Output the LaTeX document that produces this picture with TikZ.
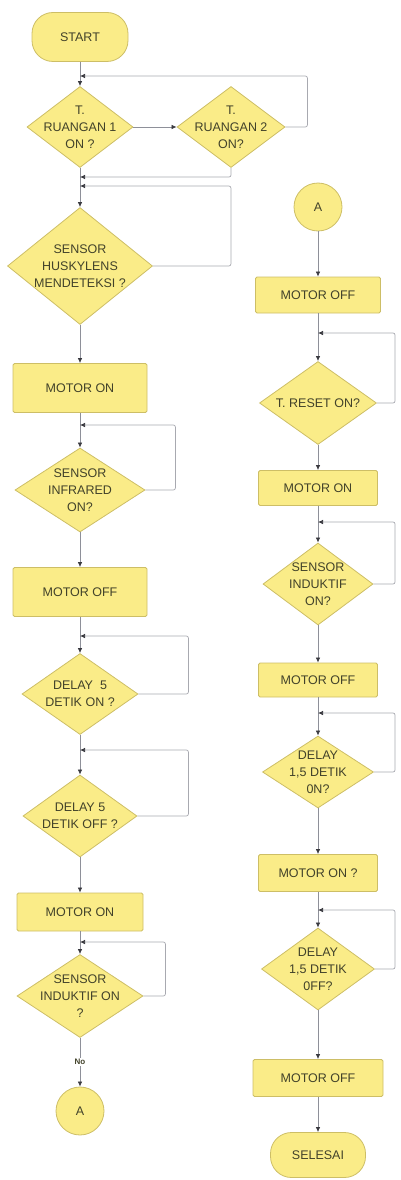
\documentclass[tikz,border=0pt]{standalone}
\usepackage{fontspec}
\setmainfont{Liberation Sans}
\usetikzlibrary{shapes.geometric,arrows.meta,calc}

\definecolor{boxFill}{HTML}{FAEC88}
\definecolor{boxLine}{HTML}{CDBE66}
\definecolor{flowLine}{HTML}{8E9099}
\definecolor{loopLine}{HTML}{A8A9B0}
\definecolor{tipColor}{HTML}{3A3A40}
\definecolor{textColor}{HTML}{42422A}

\newcommand{\chartFont}{\fontsize{12.5}{17}\selectfont}

\begin{document}
\begin{tikzpicture}[x=1pt,y=1pt]
    \tikzstyle{terminal} = [
      rectangle,
      rounded corners=21pt,
      draw=boxLine,
      fill=boxFill,
      line width=0.8pt,
      text=textColor,
      font=\chartFont,
    ]
    \tikzstyle{process} = [
      rectangle,
      rounded corners=1.5pt,
      draw=boxLine,
      fill=boxFill,
      line width=0.8pt,
      text=textColor,
      font=\chartFont,
    ]
    \tikzstyle{decision} = [
      diamond,
      draw=boxLine,
      fill=boxFill,
      line width=0.8pt,
      inner sep=0pt,
    ]
    \tikzstyle{decisionText} = [
      align=center,
      inner sep=0pt,
      text=textColor,
      font=\chartFont,
    ]
    \tikzstyle{connector} = [
      circle,
      draw=boxLine,
      fill=boxFill,
      line width=0.8pt,
      minimum size=48pt,
      text=textColor,
      font=\chartFont,
    ]
    \tikzstyle{flow} = [
      line width=0.7pt,
      draw=flowLine,
      -{Latex[length=5pt,width=4.5pt,color=tipColor]},
    ]
    \tikzstyle{loopback} = [
      flow,
      draw=loopLine,
      rounded corners=2pt,
    ]

    \useasboundingbox (0,0) rectangle (401,-1180);

    \coordinate (leftAnchor)  at (80,0);
    \coordinate (rightAnchor) at (318,0);
    \coordinate (rightEdge)   at (395,0);

    % left column
    {
      \node[terminal, minimum width=96pt, minimum height=49pt] (start) at ([yshift=-37pt] leftAnchor) {START};
      \node[decision, minimum width=106pt, minimum height=81pt, label={[decisionText]center:T.\\RUANGAN 1\\ON ?}] (ruangI) at ([yshift=-127pt] leftAnchor) {};
      \node[decision, minimum width=108pt, minimum height=81pt, label={[decisionText]center:T.\\RUANGAN 2\\ON?}] (ruangII) at ([xshift=151pt, yshift=-127pt] leftAnchor) {};
      \node[decision, minimum width=145pt, minimum height=117pt, label={[decisionText]center:SENSOR\\HUSKYLENS\\MENDETEKSI ?}] (husky) at ([yshift=-266pt] leftAnchor) {};
      \node[process, minimum width=134pt, minimum height=49pt] (motorOnI) at ([yshift=-388pt] leftAnchor) {MOTOR ON};
      \node[decision, minimum width=130pt, minimum height=84pt, label={[decisionText]center:SENSOR\\INFRARED\\ON?}] (infrared) at ([yshift=-490pt] leftAnchor) {};
      \node[process, minimum width=134pt, minimum height=49pt] (motorOffI) at ([yshift=-592pt] leftAnchor) {MOTOR OFF};
      \node[decision, minimum width=116pt, minimum height=81pt, label={[decisionText]center:DELAY\ \ 5\\DETIK ON ?}] (delayOn) at ([yshift=-694pt] leftAnchor) {};
      \node[decision, minimum width=114pt, minimum height=82pt, label={[decisionText]center:DELAY 5\\DETIK OFF ?}] (delayOff) at ([yshift=-816pt] leftAnchor) {};
      \node[process, minimum width=126pt, minimum height=38pt] (motorOnII) at ([yshift=-912pt] leftAnchor) {MOTOR ON};
      \node[decision, minimum width=126pt, minimum height=83pt, label={[decisionText]center:SENSOR\\INDUKTIF ON\\?}] (induktifI) at ([yshift=-996pt] leftAnchor) {};
      \node[connector] (pageOut) at ([yshift=-1111pt] leftAnchor) {A};
    }

    % right column
    {
      \node[connector] (pageIn) at ([yshift=-207pt] rightAnchor) {A};
      \node[process, minimum width=125pt, minimum height=36pt] (motorOffII) at ([yshift=-295pt] rightAnchor) {MOTOR OFF};
      \node[decision, minimum width=117pt, minimum height=83pt, label={[decisionText]center:T. RESET ON?}] (reset) at ([yshift=-403pt] rightAnchor) {};
      \node[process, minimum width=119pt, minimum height=35pt] (motorOnIII) at ([yshift=-488pt] rightAnchor) {MOTOR ON};
      \node[decision, minimum width=110pt, minimum height=82pt, label={[decisionText]center:SENSOR\\INDUKTIF\\ON?}] (induktifII) at ([yshift=-584pt] rightAnchor) {};
      \node[process, minimum width=119pt, minimum height=34pt] (motorOffIII) at ([yshift=-680pt] rightAnchor) {MOTOR OFF};
      \node[decision, minimum width=111pt, minimum height=72pt, label={[decisionText]center:{DELAY\\1,5 DETIK\\0N?}}] (shortOn) at ([yshift=-772pt] rightAnchor) {};
      \node[process, minimum width=119pt, minimum height=37pt] (motorOnIV) at ([yshift=-873pt] rightAnchor) {MOTOR ON ?};
      \node[decision, minimum width=113pt, minimum height=82pt, label={[decisionText]center:{DELAY\\1,5 DETIK\\0FF?}}] (shortOff) at ([yshift=-969pt] rightAnchor) {};
      \node[process, minimum width=130pt, minimum height=37pt] (motorOffIV) at ([yshift=-1078pt] rightAnchor) {MOTOR OFF};
      \node[terminal, minimum width=95pt, minimum height=45pt] (finish) at ([yshift=-1155pt] rightAnchor) {SELESAI};
    }

    % join points
    {
      \coordinate (ruangJoin)    at ([yshift=-76pt] leftAnchor);
      \coordinate (backJoin)     at ([yshift=-177pt] leftAnchor);
      \coordinate (huskyJoin)    at ([yshift=-186pt] leftAnchor);
      \coordinate (infraJoin)    at ([yshift=-425pt] leftAnchor);
      \coordinate (delayOnJoin)  at ([yshift=-636pt] leftAnchor);
      \coordinate (delayOffJoin) at ([yshift=-750pt] leftAnchor);
      \coordinate (induktifJoin) at ([yshift=-942pt] leftAnchor);
      \coordinate (resetJoin)    at ([yshift=-333pt] rightAnchor);
      \coordinate (induktifIIJoin) at ([yshift=-522pt] rightAnchor);
      \coordinate (shortOnJoin)  at ([yshift=-713pt] rightAnchor);
      \coordinate (shortOffJoin) at ([yshift=-910pt] rightAnchor);
    }

    % left flow
    {
      \draw[flow] (start) -- (ruangI);
      \draw[flow] (ruangI) -- (ruangII);
      \draw[flow] (ruangI) -- (husky);
      \draw[flow] (husky) -- (motorOnI);
      \draw[flow] (motorOnI) -- (infrared);
      \draw[flow] (infrared) -- (motorOffI);
      \draw[flow] (motorOffI) -- (delayOn);
      \draw[flow] (delayOn) -- (delayOff);
      \draw[flow] (delayOff) -- (motorOnII);
      \draw[flow] (motorOnII) -- (induktifI);
      \draw[flow] (induktifI) -- node[fill=white, inner sep=1pt, text=textColor, font=\bfseries\fontsize{8}{9}\selectfont] {No} (pageOut);
    }

    % left loops
    {
      \draw[loopback] (ruangII.east) -- ++(22,0) |- (ruangJoin);
      \draw[loopback] (ruangII.south) |- (backJoin);
      \draw[loopback] (husky.east) -- ++(78,0) |- (huskyJoin);
      \draw[loopback] (infrared.east) -- ++(30,0) |- (infraJoin);
      \draw[loopback] (delayOn.east) -- ++(50,0) |- (delayOnJoin);
      \draw[loopback] (delayOff.east) -- ++(51,0) |- (delayOffJoin);
      \draw[loopback] (induktifI.east) -- ++(22,0) |- (induktifJoin);
    }

    % right flow
    {
      \draw[flow] (pageIn) -- (motorOffII);
      \draw[flow] (motorOffII) -- (reset);
      \draw[flow] (reset) -- (motorOnIII);
      \draw[flow] (motorOnIII) -- (induktifII);
      \draw[flow] (induktifII) -- (motorOffIII);
      \draw[flow] (motorOffIII) -- (shortOn);
      \draw[flow] (shortOn) -- (motorOnIV);
      \draw[flow] (motorOnIV) -- (shortOff);
      \draw[flow] (shortOff) -- (motorOffIV);
      \draw[flow] (motorOffIV) -- (finish);
    }

    % right loops
    {
      \draw[loopback] (reset.east) -- (reset.east -| rightEdge) |- (resetJoin);
      \draw[loopback] (induktifII.east) -- (induktifII.east -| rightEdge) |- (induktifIIJoin);
      \draw[loopback] (shortOn.east) -- (shortOn.east -| rightEdge) |- (shortOnJoin);
      \draw[loopback] (shortOff.east) -- (shortOff.east -| rightEdge) |- (shortOffJoin);
    }
  \end{tikzpicture}
\end{document}
